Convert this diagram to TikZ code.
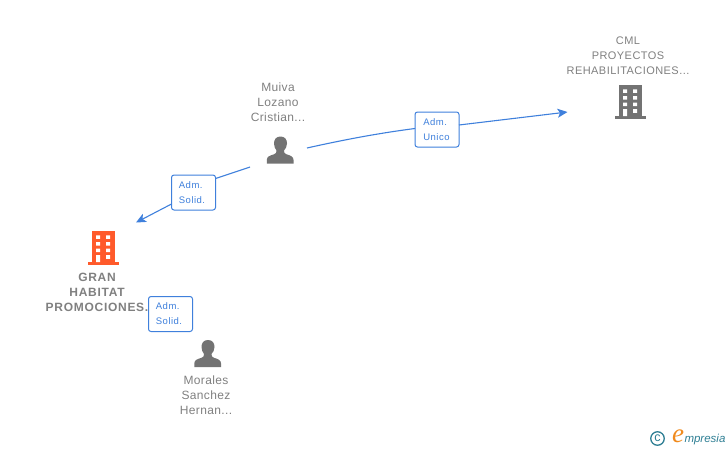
\documentclass[tikz,border=0pt]{standalone}
\usepackage{fontspec}
\setmainfont{Liberation Sans}
\usetikzlibrary{arrows.meta}
\definecolor{linkblue}{HTML}{3F80DC}
\definecolor{labelgrey}{HTML}{808080}
\definecolor{icongrey}{HTML}{737373}
\definecolor{hot}{HTML}{FF5A2B}
\definecolor{logoteal}{HTML}{2F7F94}
\definecolor{logoorange}{HTML}{F08A1D}
\newcommand{\spaced}[1]{\addfontfeatures{LetterSpace=#1}}
\newcommand{\buildingicon}[3]{%
 \begin{scope}[shift={(#1,#2)}]
  \fill[#3] (91.7,231) rectangle (114.8,262);
  \fill[#3] (87.5,262) rectangle (119,264.7);
  \fill[white] (96,235.3) rectangle (100,238.8) (106,235.3) rectangle (110,238.8)
   (96,242) rectangle (100,245.5) (106,242) rectangle (110,245.5)
   (96,248.6) rectangle (100,252.1) (106,248.6) rectangle (110,252.1)
   (96,255.2) rectangle (100,262) (106,255.2) rectangle (110,258.8);
 \end{scope}}
\newcommand{\personicon}[2]{%
 \begin{scope}[shift={(#1,#2)}]
  \fill[icongrey] (280.5,136.5) .. controls (276,136.5) and (274,139.5) .. (274,143.5)
   .. controls (274,146.5) and (275.3,149) .. (276.5,150.5)
   .. controls (276.7,152.5) and (276,153.5) .. (274,154.3)
   .. controls (270,155.5) and (266.8,156.5) .. (266.8,160)
   -- (266.8,163.7) -- (293.5,163.7) -- (293.5,160)
   .. controls (293.5,156.5) and (290.5,155.5) .. (286.5,154.3)
   .. controls (284.5,153.5) and (283.8,152.5) .. (284,150.5)
   .. controls (285.5,149) and (287,146.5) .. (287,143.5)
   .. controls (287,139.5) and (285,136.5) .. (280.5,136.5) -- cycle;
 \end{scope}}
\tikzset{
 every node/.style={inner sep=0pt,outer sep=0pt},
 namelabel/.style={align=center,text=labelgrey,font=\fontsize{12}{15}\selectfont\spaced{3}},
 capslabel/.style={align=center,text=labelgrey,font=\fontsize{11}{15}\selectfont\spaced{4}},
 boldlabel/.style={align=center,text=labelgrey,font=\fontsize{12}{15}\selectfont\bfseries\spaced{6}},
 rolebox/.style={draw=linkblue,line width=1pt,rounded corners=2.5pt,fill=white,
   minimum width=44pt,minimum height=35pt,text=linkblue,
   font=\fontsize{9.5}{15}\selectfont\spaced{5}},
 link/.style={draw=linkblue,line width=1.1pt},
 linkarrow/.style={link,-{Stealth[length=10pt,width=9pt,inset=2.5pt]}}
}
\begin{document}
\begin{tikzpicture}[x=1pt,y=-1pt]
\useasboundingbox (0,0) rectangle (728,450);
% icons
\buildingicon{0}{0}{hot}
\buildingicon{527}{-146}{icongrey}
\personicon{0}{0}
\personicon{-72.5}{203.5}
% labels
\node[boldlabel] (gran) at (97,292) {GRAN\\HABITAT\\PROMOCIONES.};
\node[capslabel] (cml) at (628,55.5) {CML\\PROYECTOS\\REHABILITACIONES...};
\node[namelabel] (muiva) at (278,102.5) {Muiva\\Lozano\\Cristian...};
\node[namelabel] (morales) at (206,395.5) {Morales\\Sanchez\\Hernan...};
% free ends
\coordinate (muivaA) at (250,167);
\coordinate (muivaB) at (307,148);
\coordinate (granEnd) at (136,222.5);
\coordinate (cmlEnd) at (567.5,112);
% role boxes
\node[rolebox] (solidA) at (193.5,192.5) {\hspace*{-3pt}\begin{tabular}{@{}l@{}}Adm.\\Solid.\end{tabular}};
\node[rolebox] (unico) at (437,129.5) {\hspace*{-1pt}\begin{tabular}{@{}l@{}}Adm.\\Unico\end{tabular}};
\node[rolebox] (solidB) at (170.5,314) {\hspace*{-3pt}\begin{tabular}{@{}l@{}}Adm.\\Solid.\end{tabular}};
% connectors
\draw[link] (muivaA) -- (solidA.east |- 0,178.5);
\draw[linkarrow] (solidA.west |- 0,204) -- (granEnd);
\draw[link] (muivaB) .. controls (345,139.5) and (380,133) .. (unico.west |- 0,128.5);
\draw[linkarrow] (unico.east |- 0,125) -- (cmlEnd);
% logo
\node[draw=logoteal,line width=1.3pt,circle,minimum size=13.5pt,text=logoteal,font=\fontsize{12.5}{12.5}\selectfont] (copy) at (657.5,438.5) {\raisebox{0.5pt}{c}};
\node[text=logoorange,font=\fontspec{Liberation Serif}\fontsize{27}{27}\selectfont\itshape] (elogo) at (678,436.5) {e};
\node[anchor=west,text=logoteal,font=\fontsize{11.5}{13}\selectfont\itshape] (mpresia) at (684.5,440) {mpresia};
\end{tikzpicture}
\end{document}
